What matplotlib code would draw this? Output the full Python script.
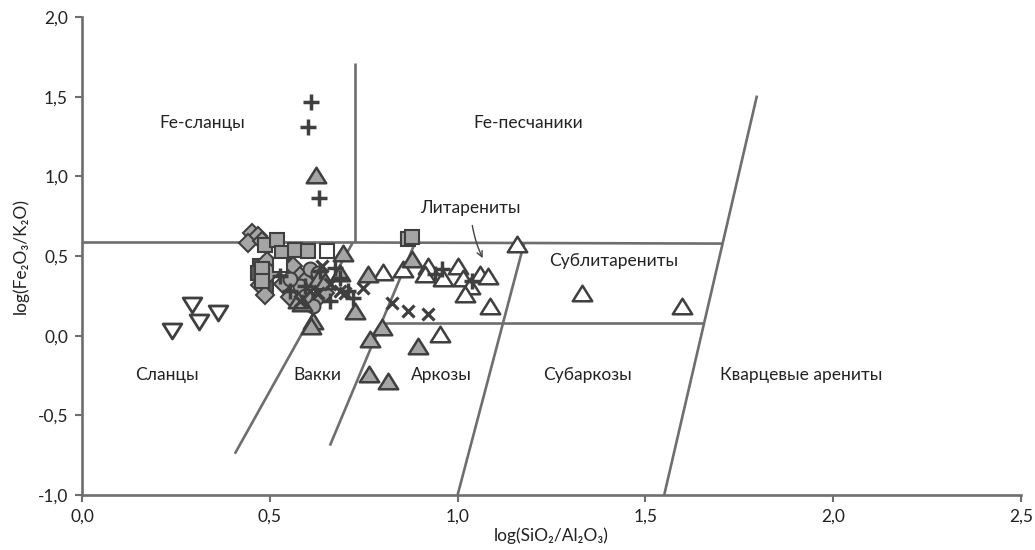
import matplotlib
matplotlib.use("Agg")
import matplotlib.pyplot as plt
from matplotlib.path import Path
from matplotlib.ticker import FuncFormatter

plt.rcParams['font.family'] = ['Lato', 'DejaVu Sans']

# ---------------- data ----------------
diam_x = [0.453, 0.469, 0.442, 0.479, 0.493, 0.562, 0.474, 0.487, 0.535, 0.580, 0.647, 0.554, 0.501, 0.594, 0.620, 0.532]
diam_y = [0.647, 0.628, 0.584, 0.596, 0.471, 0.439, 0.320, 0.257, 0.326, 0.377, 0.270, 0.245, 0.395, 0.345, 0.220, 0.483]

gsq_x = [0.487, 0.519, 0.532, 0.567, 0.602, 0.868, 0.879, 0.479, 0.479]
gsq_y = [0.571, 0.603, 0.521, 0.540, 0.534, 0.609, 0.621, 0.421, 0.345]

osq_x = [0.652, 0.527]
osq_y = [0.534, 0.446]

dsq_x = [0.474, 0.479, 0.490, 0.501, 0.469]
dsq_y = [0.439, 0.377, 0.314, 0.421, 0.395]

circ_x = [0.607, 0.580, 0.628, 0.554, 0.615, 0.594]
circ_y = [0.421, 0.314, 0.395, 0.358, 0.188, 0.251]

cross_x = [0.748, 0.825, 0.868, 0.921, 0.687, 0.660, 0.628, 0.639, 0.700, 0.607, 0.580]
cross_y = [0.301, 0.207, 0.157, 0.138, 0.282, 0.326, 0.270, 0.439, 0.270, 0.282, 0.220]

plus_x = [0.610, 0.602, 0.631, 0.958, 0.940, 1.038, 0.674, 0.708, 0.722, 0.634, 0.594, 0.554, 0.660, 0.687, 0.527]
plus_y = [1.469, 1.312, 0.866, 0.421, 0.389, 0.345, 0.427, 0.282, 0.239, 0.408, 0.314, 0.282, 0.220, 0.364, 0.377]

gtri_x = [0.623, 0.695, 0.761, 0.879, 0.727, 0.799, 0.767, 0.895, 0.764, 0.815, 0.628, 0.586, 0.615, 0.575, 0.610, 0.647, 0.687]
gtri_y = [1.011, 0.521, 0.389, 0.483, 0.157, 0.056, -0.019, -0.063, -0.239, -0.282, 0.358, 0.207, 0.094, 0.226, 0.063, 0.345, 0.395]

otri_x = [0.801, 0.855, 0.921, 0.913, 0.961, 1.001, 1.014, 1.033, 1.020, 1.060, 1.081, 1.086, 0.953, 1.158, 1.331, 1.597]
otri_y = [0.402, 0.421, 0.439, 0.389, 0.364, 0.439, 0.364, 0.314, 0.264, 0.389, 0.377, 0.188, 0.013, 0.578, 0.270, 0.188]

dtri_x = [0.240, 0.293, 0.312, 0.362]
dtri_y = [0.031, 0.195, 0.088, 0.144]

# classification boundaries (Herron, 1988)
bound_h1_x = [0.0, 0.727];   bound_h1_y = [0.59, 0.59]
bound_v_x = [0.727, 0.727];  bound_v_y = [0.59, 1.71]
bound_h2_x = [0.727, 1.706]; bound_h2_y = [0.585, 0.578]
bound_l1_x = [0.407, 0.721]; bound_l1_y = [-0.741, 0.585]
bound_l2_x = [0.660, 0.887]; bound_l2_y = [-0.690, 0.585]
bound_l3_x = [1.000, 1.177]; bound_l3_y = [-1.0, 0.580]
bound_l4_x = [1.550, 1.797]; bound_l4_y = [-1.0, 1.507]
bound_h3_x = [0.807, 1.657]; bound_h3_y = [0.082, 0.082]

field_labels = ["Fe-сланцы", "Fe-песчаники", "Литарениты", "Сублитарениты",
                "Сланцы", "Вакки", "Аркозы", "Субаркозы", "Кварцевые арениты"]
field_x = [0.319, 1.187, 1.033, 1.416, 0.226, 0.628, 0.958, 1.347, 1.914]
field_y = [1.337, 1.337, 0.804, 0.471, -0.245, -0.245, -0.245, -0.245, -0.245]

x_ticks = [0.0, 0.5, 1.0, 1.5, 2.0, 2.5]
y_ticks = [-1.0, -0.5, 0.0, 0.5, 1.0, 1.5, 2.0]

# ---------------- figure ----------------
fig = plt.figure(figsize=(10.35, 5.5), dpi=100)
ax = fig.add_axes([0.0792, 0.100, 0.9073, 0.869])

line_c = '#6e6e6e'
edge_c = '#3f3f3f'
fill_c = '#a5a5a5'

for bx, by in [(bound_h1_x, bound_h1_y), (bound_v_x, bound_v_y), (bound_h2_x, bound_h2_y),
               (bound_l1_x, bound_l1_y), (bound_l2_x, bound_l2_y), (bound_l3_x, bound_l3_y),
               (bound_l4_x, bound_l4_y), (bound_h3_x, bound_h3_y)]:
    ax.plot(bx, by, color=line_c, lw=1.9, solid_capstyle='butt', zorder=1)

tri_up = Path([(0, 0.8), (-1, -0.8), (1, -0.8), (0, 0.8)],
              [Path.MOVETO, Path.LINETO, Path.LINETO, Path.CLOSEPOLY])
tri_dn = Path([(0, -0.8), (-1, 0.8), (1, 0.8), (0, -0.8)],
              [Path.MOVETO, Path.LINETO, Path.LINETO, Path.CLOSEPOLY])

ax.plot(dsq_x, dsq_y, ls='none', marker='s', ms=10, mfc='#5a5a5a', mec=edge_c, mew=1.5, zorder=3)
ax.plot(diam_x, diam_y, ls='none', marker='D', ms=9, mfc=fill_c, mec=edge_c, mew=1.5, zorder=3)
ax.plot(gsq_x, gsq_y, ls='none', marker='s', ms=10, mfc=fill_c, mec=edge_c, mew=1.5, zorder=3)
ax.plot(osq_x, osq_y, ls='none', marker='s', ms=10, mfc='white', mec=edge_c, mew=1.5, zorder=3)
ax.plot(circ_x, circ_y, ls='none', marker='o', ms=10, mfc=fill_c, mec=edge_c, mew=1.5, zorder=3)
ax.plot(otri_x, otri_y, ls='none', marker=tri_up, ms=14, mfc='white', mec=edge_c, mew=1.8, zorder=4)
ax.plot(gtri_x, gtri_y, ls='none', marker=tri_up, ms=14, mfc=fill_c, mec=edge_c, mew=1.8, zorder=4)
ax.plot(dtri_x, dtri_y, ls='none', marker=tri_dn, ms=13.5, mfc='white', mec=edge_c, mew=2.0, zorder=4)
ax.plot(cross_x, cross_y, ls='none', marker='x', ms=8.5, mec=edge_c, mew=2.3, zorder=5)
ax.plot(plus_x, plus_y, ls='none', marker='+', ms=11, mec=edge_c, mew=2.5, zorder=5)

for lab, tx, ty in zip(field_labels, field_x, field_y):
    ax.text(tx, ty, lab, ha='center', va='center', fontsize=12.5, color='#222222', zorder=6)

ax.annotate('', xy=(1.070, 0.471), xytext=(1.038, 0.709),
            arrowprops=dict(arrowstyle='->', color='#444444', lw=1.0,
                            connectionstyle='arc3,rad=0.08'), zorder=6)

ax.set_xlim(0, 2.5)
ax.set_ylim(-1.0, 2.0)
ax.set_xticks(x_ticks)
ax.set_yticks(y_ticks)
fmt = FuncFormatter(lambda v, p: f"{v:.1f}".replace('.', ','))
ax.xaxis.set_major_formatter(fmt)
ax.yaxis.set_major_formatter(fmt)

for s in ['top', 'right']:
    ax.spines[s].set_visible(False)
for s in ['left', 'bottom']:
    ax.spines[s].set_color(line_c)
    ax.spines[s].set_linewidth(1.9)
ax.tick_params(axis='both', direction='out', length=5, width=1.5, color=line_c,
               labelsize=12.5, labelcolor='#222222', pad=5)

ax.set_xlabel('log(SiO₂/Al₂O₃)', fontsize=12.5, color='#222222', labelpad=2)
ax.set_ylabel('log(Fe₂O₃/K₂O)', fontsize=12.5, color='#222222', labelpad=6)

fig.savefig('out.png', dpi=100)
